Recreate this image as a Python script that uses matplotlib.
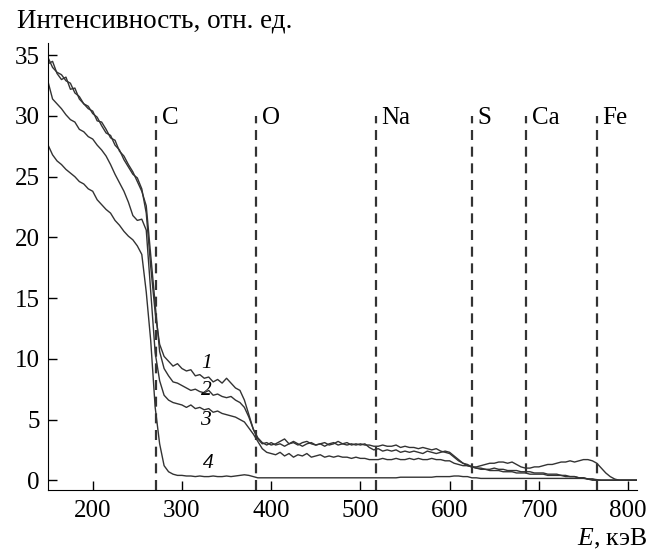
import numpy as np
import matplotlib.pyplot as plt

plt.rcParams['font.family'] = 'Liberation Serif'
plt.rcParams['mathtext.fontset'] = 'custom'
plt.rcParams['mathtext.rm'] = 'Liberation Serif'
plt.rcParams['mathtext.it'] = 'Liberation Serif:italic'

# energy grid, keV
energy = np.arange(150, 815, 5)

# spectra 1-4 (relative intensity), every 5 keV
curve1 = [
    34.8, 34.0, 33.6, 33.4, 32.9, 32.7, 31.9, 31.6, 31.0, 30.8,   # 150-195
    30.2, 29.9, 29.2, 28.6, 28.4, 27.6, 27.2, 26.4, 25.8, 25.2,   # 200-245
    24.9, 24.0, 22.0, 17.6, 13.8, 11.2, 10.2, 9.8, 9.4, 9.6,      # 250-295
    9.2, 9.0, 9.1, 8.6, 8.7, 8.4, 8.5, 8.1, 8.3, 8.0,             # 300-345
    8.4, 8.0, 7.6, 7.4, 6.6, 5.4, 4.2, 3.4, 3.0, 3.1,             # 350-395
    2.9, 3.0, 3.2, 3.4, 3.0, 3.1, 2.9, 3.1, 3.2, 3.0,             # 400-445
    2.9, 3.0, 3.1, 2.9, 3.0, 3.2, 3.0, 2.9, 3.0, 2.9,             # 450-495
    3.0, 2.9, 2.9, 2.8, 2.8, 2.9, 2.8, 2.8, 2.9, 2.7,             # 500-545
    2.8, 2.7, 2.7, 2.6, 2.7, 2.6, 2.5, 2.6, 2.4, 2.3,             # 550-595
    2.2, 1.9, 1.6, 1.4, 1.3, 1.1, 1.0, 1.0, 0.9, 0.9,             # 600-645
    1.0, 0.9, 0.9, 0.8, 0.8, 0.8, 0.7, 0.7, 0.7, 0.6,             # 650-695
    0.6, 0.6, 0.5, 0.5, 0.5, 0.4, 0.4, 0.3, 0.3, 0.2,             # 700-745
    0.2, 0.1, 0.0, 0.0, 0.0, 0.0, 0.0, 0.0, 0.0, 0.0,             # 750-795
    0.0, 0.0, 0.0,                                                # 800-810
]
curve2 = [
    34.3, 34.5, 33.5, 33.0, 33.2, 32.2, 32.3, 31.4, 31.0, 30.6,
    30.4, 29.6, 29.5, 28.9, 28.2, 28.0, 27.1, 26.7, 26.0, 25.4,
    24.6, 23.8, 22.6, 18.5, 14.5, 10.6, 9.2, 8.6, 8.1, 8.0,
    7.8, 7.6, 7.4, 7.5, 7.3, 7.2, 7.4, 7.0, 7.1, 6.9,
    6.8, 6.9, 6.6, 6.4, 6.0, 5.2, 4.2, 3.5, 3.1, 2.9,
    3.1, 2.9, 3.0, 2.8, 3.0, 3.2, 3.0, 2.8, 3.0, 3.1,
    2.9, 3.0, 2.8, 3.0, 3.1, 2.9, 3.0, 3.1, 2.9, 3.0,
    2.9, 3.0, 2.7, 2.5, 2.6, 2.4, 2.5, 2.4, 2.5, 2.3,
    2.4, 2.3, 2.4, 2.3, 2.2, 2.4, 2.3, 2.2, 2.3, 2.4,
    2.3, 2.0, 1.7, 1.4, 1.2, 1.1, 1.1, 1.2, 1.3, 1.4,
    1.4, 1.5, 1.5, 1.4, 1.5, 1.3, 1.1, 1.0, 1.0, 1.1,
    1.1, 1.2, 1.3, 1.3, 1.4, 1.5, 1.5, 1.6, 1.5, 1.6,
    1.7, 1.7, 1.6, 1.4, 1.0, 0.6, 0.3, 0.1, 0.0, 0.0,
    0.0, 0.0, 0.0,
]
curve3 = [
    32.8, 31.4, 31.0, 30.6, 30.1, 29.7, 29.5, 28.9, 28.7, 28.3,
    28.1, 27.6, 27.2, 26.7, 26.0, 25.2, 24.5, 23.8, 22.9, 21.8,
    21.4, 21.5, 20.6, 15.5, 10.5, 8.2, 7.0, 6.6, 6.4, 6.3,
    6.2, 6.0, 6.2, 5.9, 6.0, 5.8, 5.9, 5.6, 5.7, 5.5,
    5.4, 5.3, 5.2, 5.0, 4.8, 4.3, 3.8, 3.2, 2.6, 2.3,
    2.2, 2.1, 2.3, 2.0, 2.2, 1.9, 2.1, 2.0, 2.2, 1.9,
    2.0, 2.1, 1.9, 2.0, 1.9, 2.0, 1.9, 1.9, 1.8, 1.9,
    1.8, 1.8, 1.7, 1.7, 1.7, 1.8, 1.7, 1.7, 1.8, 1.7,
    1.7, 1.8, 1.7, 1.8, 1.7, 1.7, 1.8, 1.7, 1.7, 1.6,
    1.6, 1.4, 1.3, 1.2, 1.2, 1.1, 1.0, 0.9, 0.9, 0.8,
    0.8, 0.8, 0.7, 0.7, 0.7, 0.6, 0.6, 0.6, 0.5, 0.5,
    0.5, 0.5, 0.4, 0.4, 0.4, 0.4, 0.3, 0.3, 0.3, 0.2,
    0.2, 0.1, 0.1, 0.0, 0.0, 0.0, 0.0, 0.0, 0.0, 0.0,
    0.0, 0.0, 0.0,
]
curve4 = [
    27.6, 26.8, 26.3, 26.0, 25.6, 25.3, 25.0, 24.6, 24.4, 24.0,
    23.8, 23.1, 22.7, 22.3, 22.0, 21.4, 21.0, 20.5, 20.1, 19.8,
    19.3, 18.6, 15.5, 11.5, 6.0, 3.0, 1.2, 0.7, 0.5, 0.4,
    0.4, 0.35, 0.35, 0.3, 0.35, 0.3, 0.3, 0.35, 0.3, 0.3,
    0.35, 0.3, 0.35, 0.4, 0.45, 0.4, 0.3, 0.2, 0.2, 0.2,
    0.2, 0.2, 0.2, 0.2, 0.2, 0.2, 0.2, 0.2, 0.2, 0.2,
    0.2, 0.2, 0.2, 0.2, 0.2, 0.2, 0.2, 0.2, 0.2, 0.2,
    0.2, 0.2, 0.2, 0.2, 0.2, 0.2, 0.2, 0.2, 0.2, 0.25,
    0.25, 0.25, 0.25, 0.25, 0.25, 0.25, 0.25, 0.3, 0.3, 0.3,
    0.3, 0.35, 0.35, 0.3, 0.3, 0.2, 0.2, 0.15, 0.15, 0.15,
    0.15, 0.15, 0.15, 0.15, 0.15, 0.15, 0.15, 0.15, 0.15, 0.15,
    0.15, 0.15, 0.15, 0.15, 0.15, 0.15, 0.15, 0.15, 0.15, 0.15,
    0.15, 0.1, 0.1, 0.05, 0.0, 0.0, 0.0, 0.0, 0.0, 0.0,
    0.0, 0.0, 0.0,
]

# element edge positions, keV
elements = ['C', 'O', 'Na', 'S', 'Ca', 'Fe']
edges = [271, 383, 517, 625, 686, 765]

curve_labels = ['1', '2', '3', '4']
label_x = [328, 327, 326, 330]
label_y = [9.6, 7.4, 4.9, 1.4]

fig = plt.figure(figsize=(6.5, 5.53), dpi=100)
ax = fig.add_axes([0.074, 0.114, 0.906, 0.808])

for c in (curve1, curve2, curve3, curve4):
    ax.plot(energy, c, color='#333333', lw=1.0)

for name, e in zip(elements, edges):
    ax.plot([e, e], [-0.8, 30], color='#333333', lw=1.6, ls=(0, (4.5, 3)))
    ax.annotate(name, (e, 29.8), xytext=(4, 0), textcoords='offset points',
                ha='left', va='center', fontsize=18)

for t, x, y in zip(curve_labels, label_x, label_y):
    ax.text(x, y, t, fontsize=15.5, style='italic', ha='center', va='center')

ax.set_xlim(150, 810)
ax.set_ylim(-0.8, 36)
ax.set_xticks([200, 300, 400, 500, 600, 700, 800])
ax.set_yticks([0, 5, 10, 15, 20, 25, 30, 35])
ax.tick_params(direction='in', length=6.5, width=1, labelsize=18)
ax.tick_params(axis='x', pad=7)
ax.tick_params(axis='y', pad=6)
for s in ('top', 'right'):
    ax.spines[s].set_visible(False)

fig.text(17 / 650, 1 - 21 / 553, 'Интенсивность, отн. ед.', fontsize=19.5,
         ha='left', va='center')
fig.text(647 / 650, 1 - 539 / 553, r'$E$, кэВ', fontsize=18.5,
         ha='right', va='center')

fig.savefig('out.png', dpi=100)
